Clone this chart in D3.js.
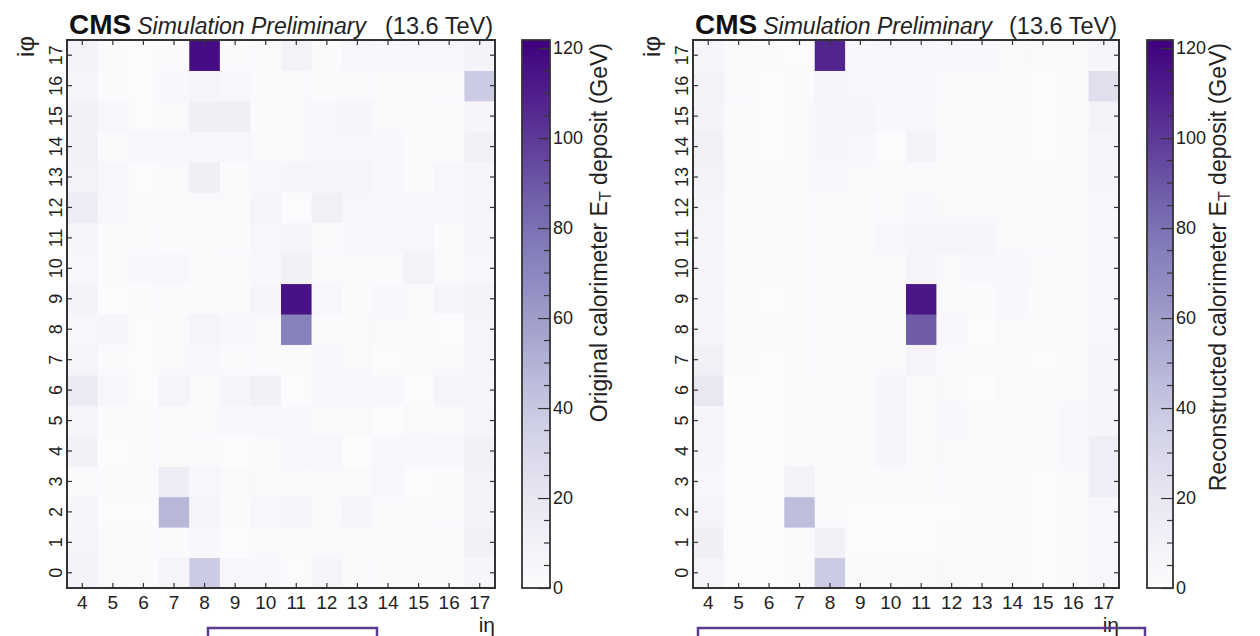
<!DOCTYPE html>
<html>
<head>
<meta charset="utf-8">
<script src="https://cdn.jsdelivr.net/npm/d3@7"></script>
<style>
  html, body { margin: 0; padding: 0; background: #fff; }
  svg { display: block; font-family: "Liberation Sans", Arial, Helvetica, sans-serif; }
</style>
</head>
<body>
<svg id="chart" width="1260" height="636"></svg>
<script>
// iη (columns) and iφ (rows) of the trigger-tower grid
const etaBins = [4, 5, 6, 7, 8, 9, 10, 11, 12, 13, 14, 15, 16, 17];
const phiBins = [0, 1, 2, 3, 4, 5, 6, 7, 8, 9, 10, 11, 12, 13, 14, 15, 16, 17];

// E_T deposit (GeV), one row per iφ (0..17), values over iη 4..17
const originalEt = [
  [10, 3, 2, 7, 38, 5, 4, 1, 6, 2, 2, 2, 2, 6],
  [8, 3, 2, 2, 4, 1, 3, 3, 3, 3, 2, 2, 3, 11],
  [6, 1, 1, 48, 8, 2, 5, 6, 3, 6, 2, 2, 2, 10],
  [3, 2, 2, 15, 5, 3, 3, 3, 3, 3, 5, 1, 2, 10],
  [12, 1, 2, 2, 2, 1, 2, 5, 5, 1, 4, 4, 5, 12],
  [7, 2, 2, 2, 3, 4, 4, 4, 2, 3, 1, 3, 3, 7],
  [17, 5, 1, 7, 3, 7, 11, 1, 4, 4, 4, 1, 7, 6],
  [7, 2, 1, 3, 4, 2, 2, 2, 5, 3, 1, 2, 3, 7],
  [5, 6, 1, 3, 8, 4, 3, 73, 2, 3, 3, 3, 1, 8],
  [10, 1, 2, 2, 2, 3, 6, 115, 5, 2, 4, 3, 6, 9],
  [5, 2, 4, 5, 2, 3, 4, 11, 3, 3, 2, 10, 2, 5],
  [7, 2, 2, 2, 3, 2, 5, 7, 2, 4, 4, 5, 2, 6],
  [15, 5, 3, 2, 3, 3, 6, 1, 12, 5, 4, 5, 4, 6],
  [10, 5, 1, 3, 13, 2, 4, 6, 6, 7, 4, 2, 5, 6],
  [12, 2, 5, 5, 5, 5, 3, 3, 5, 5, 4, 2, 2, 12],
  [12, 5, 1, 3, 13, 13, 2, 3, 5, 6, 3, 2, 2, 6],
  [8, 2, 1, 4, 7, 5, 2, 3, 2, 2, 3, 2, 3, 38],
  [10, 2, 1, 2, 117, 2, 3, 10, 2, 5, 4, 5, 5, 9]
];

const reconstructedEt = [
  [7, 1, 1, 2, 38, 2, 2, 3, 3, 2, 2, 1, 2, 5],
  [13, 1, 1, 2, 12, 1, 1, 1, 2, 2, 2, 1, 2, 5],
  [8, 1, 1, 45, 2, 1, 1, 1, 1, 2, 2, 1, 2, 5],
  [5, 1, 1, 10, 2, 2, 2, 2, 2, 2, 2, 1, 3, 14],
  [6, 1, 1, 3, 2, 3, 6, 3, 3, 3, 3, 2, 4, 14],
  [6, 1, 1, 3, 2, 3, 6, 3, 4, 3, 3, 2, 4, 6],
  [20, 1, 1, 3, 2, 3, 6, 3, 3, 1, 3, 2, 3, 6],
  [12, 2, 1, 2, 2, 2, 3, 7, 2, 2, 2, 1, 3, 6],
  [6, 2, 2, 2, 2, 3, 3, 88, 4, 1, 3, 2, 3, 5],
  [7, 2, 1, 2, 2, 3, 3, 113, 3, 2, 4, 2, 2, 5],
  [6, 2, 2, 2, 2, 3, 3, 8, 3, 4, 4, 3, 2, 5],
  [7, 2, 2, 2, 2, 3, 5, 7, 6, 6, 3, 2, 2, 5],
  [7, 2, 2, 2, 2, 3, 2, 4, 3, 3, 3, 2, 2, 4],
  [10, 2, 2, 3, 4, 3, 3, 3, 2, 3, 3, 2, 2, 6],
  [12, 2, 1, 3, 6, 5, 1, 9, 2, 2, 2, 1, 2, 7],
  [9, 2, 1, 3, 6, 6, 4, 4, 2, 2, 2, 1, 2, 10],
  [9, 3, 1, 2, 6, 5, 4, 5, 2, 2, 2, 1, 2, 26],
  [6, 3, 2, 1, 108, 4, 5, 5, 4, 4, 3, 3, 3, 6]
];

// colour axis
const zTicks = [0, 20, 40, 60, 80, 100, 120];
const zMinorTicks = d3.range(0, 121, 5);
const zDomain = [0, 121.8];

const panelTitles = ["Original calorimeter E", "Reconstructed calorimeter E"];

const svg = d3.select("#chart");
const color = d3.scaleSequential(d3.interpolatePurples).domain(zDomain).clamp(true);

const plotTop = 40, plotBottom = 588;
const panels = [
  { data: originalEt, x0: 67, x1: 495, bar0: 522, bar1: 550, titleX: 607, label: panelTitles[0], box: [208, 377] },
  { data: reconstructedEt, x0: 693, x1: 1119, bar0: 1147, bar1: 1173, titleX: 1226, label: panelTitles[1], box: [698, 1145] }
];

// shared gradient for the colour bars
const defs = svg.append("defs");
const grad = defs.append("linearGradient")
  .attr("id", "zgrad").attr("x1", 0).attr("y1", 1).attr("x2", 0).attr("y2", 0);
d3.range(0, 1.0001, 0.05).forEach(t => {
  grad.append("stop").attr("offset", t).attr("stop-color", d3.interpolatePurples(t));
});

panels.forEach((p) => {
  const g = svg.append("g");
  const x = d3.scaleBand().domain(etaBins).range([p.x0, p.x1]);
  const y = d3.scaleBand().domain(phiBins.slice().reverse()).range([plotTop, plotBottom]);

  // cells
  const cells = [];
  phiBins.forEach((phi, i) => etaBins.forEach((eta, j) => cells.push({ eta, phi, v: p.data[i][j] })));
  g.append("g").selectAll("rect").data(cells).join("rect")
    .attr("x", d => x(d.eta))
    .attr("y", d => y(d.phi))
    .attr("width", x.bandwidth() + 0.5)
    .attr("height", y.bandwidth() + 0.5)
    .attr("fill", d => color(d.v));

  // axes with inward ticks
  const ax = g.append("g").attr("transform", `translate(0,${plotBottom})`)
    .call(d3.axisBottom(x).tickSize(-5).tickPadding(8));
  ax.select(".domain").remove();
  ax.selectAll("text").attr("font-size", 19).attr("fill", "#222").attr("font-family", null);

  const axTop = g.append("g").attr("transform", `translate(0,${plotTop})`)
    .call(d3.axisTop(x).tickSize(-5).tickFormat(""));
  axTop.select(".domain").remove();

  const ay = g.append("g").attr("transform", `translate(${p.x0},0)`)
    .call(d3.axisLeft(y).tickSize(-5));
  ay.select(".domain").remove();
  ay.selectAll("text")
    .attr("x", 0).attr("dy", "0.35em")
    .attr("text-anchor", "middle")
    .attr("transform", "translate(-11,0) rotate(-90)")
    .attr("font-size", 18).attr("fill", "#222").attr("font-family", null);

  const ayR = g.append("g").attr("transform", `translate(${p.x1},0)`)
    .call(d3.axisRight(y).tickSize(-5).tickFormat(""));
  ayR.select(".domain").remove();

  g.selectAll(".tick line").attr("stroke", "#333").attr("stroke-width", 1.2);

  // frame
  g.append("rect")
    .attr("x", p.x0).attr("y", plotTop)
    .attr("width", p.x1 - p.x0).attr("height", plotBottom - plotTop)
    .attr("fill", "none").attr("stroke", "#333").attr("stroke-width", 2);

  // axis titles
  g.append("text")
    .attr("transform", `translate(${p.x0 - 41},${plotTop - 4}) rotate(-90)`)
    .attr("text-anchor", "end").attr("dy", "0.35em")
    .attr("font-size", 24).attr("fill", "#222")
    .text("iφ");
  g.append("text")
    .attr("x", p.x1).attr("y", 632)
    .attr("text-anchor", "end")
    .attr("font-size", 21).attr("fill", "#222")
    .text("iη");

  // header
  const hdr = g.append("text").attr("x", p.x0 + 2).attr("y", 34).attr("fill", "#111");
  hdr.append("tspan").attr("font-weight", "bold").attr("font-size", 28).text("CMS");
  hdr.append("tspan").attr("dx", 6).attr("font-style", "italic").attr("font-size", 23).attr("fill", "#222").text("Simulation Preliminary");
  g.append("text")
    .attr("x", p.x1 - 2).attr("y", 34)
    .attr("text-anchor", "end").attr("font-size", 23.5).attr("fill", "#222")
    .text("(13.6 TeV)");

  // colour bar
  const z = d3.scaleLinear().domain(zDomain).range([plotBottom, plotTop]);
  g.append("rect")
    .attr("x", p.bar0).attr("y", plotTop)
    .attr("width", p.bar1 - p.bar0).attr("height", plotBottom - plotTop)
    .attr("fill", "url(#zgrad)")
    .attr("stroke", "#333").attr("stroke-width", 1.8);

  const az = g.append("g").attr("transform", `translate(${p.bar1},0)`)
    .call(d3.axisRight(z).tickValues(zTicks).tickSize(-12).tickPadding(3));
  az.select(".domain").remove();
  az.selectAll("text").attr("font-size", 18).attr("fill", "#222").attr("font-family", null);
  az.selectAll(".tick line").attr("stroke", "#333").attr("stroke-width", 1.2);

  g.append("g").selectAll("line")
    .data(zMinorTicks.filter(v => !zTicks.includes(v)))
    .join("line")
    .attr("x1", p.bar1 - 6).attr("x2", p.bar1)
    .attr("y1", d => z(d)).attr("y2", d => z(d))
    .attr("stroke", "#333").attr("stroke-width", 1.2);

  const zt = g.append("text")
    .attr("transform", `translate(${p.titleX},${plotTop + 3}) rotate(-90)`)
    .attr("text-anchor", "end")
    .attr("font-size", 23).attr("fill", "#222");
  zt.append("tspan").text(p.label);
  zt.append("tspan").attr("font-size", 16).attr("dy", 4).text("T");
  zt.append("tspan").attr("dy", -4).text(" deposit (GeV)");

  // outlined box below the axis
  g.append("rect")
    .attr("x", p.box[0]).attr("y", 628)
    .attr("width", p.box[1] - p.box[0]).attr("height", 20)
    .attr("fill", "none").attr("stroke", "#5e3c8f").attr("stroke-width", 2.5);
});
</script>
</body>
</html>
